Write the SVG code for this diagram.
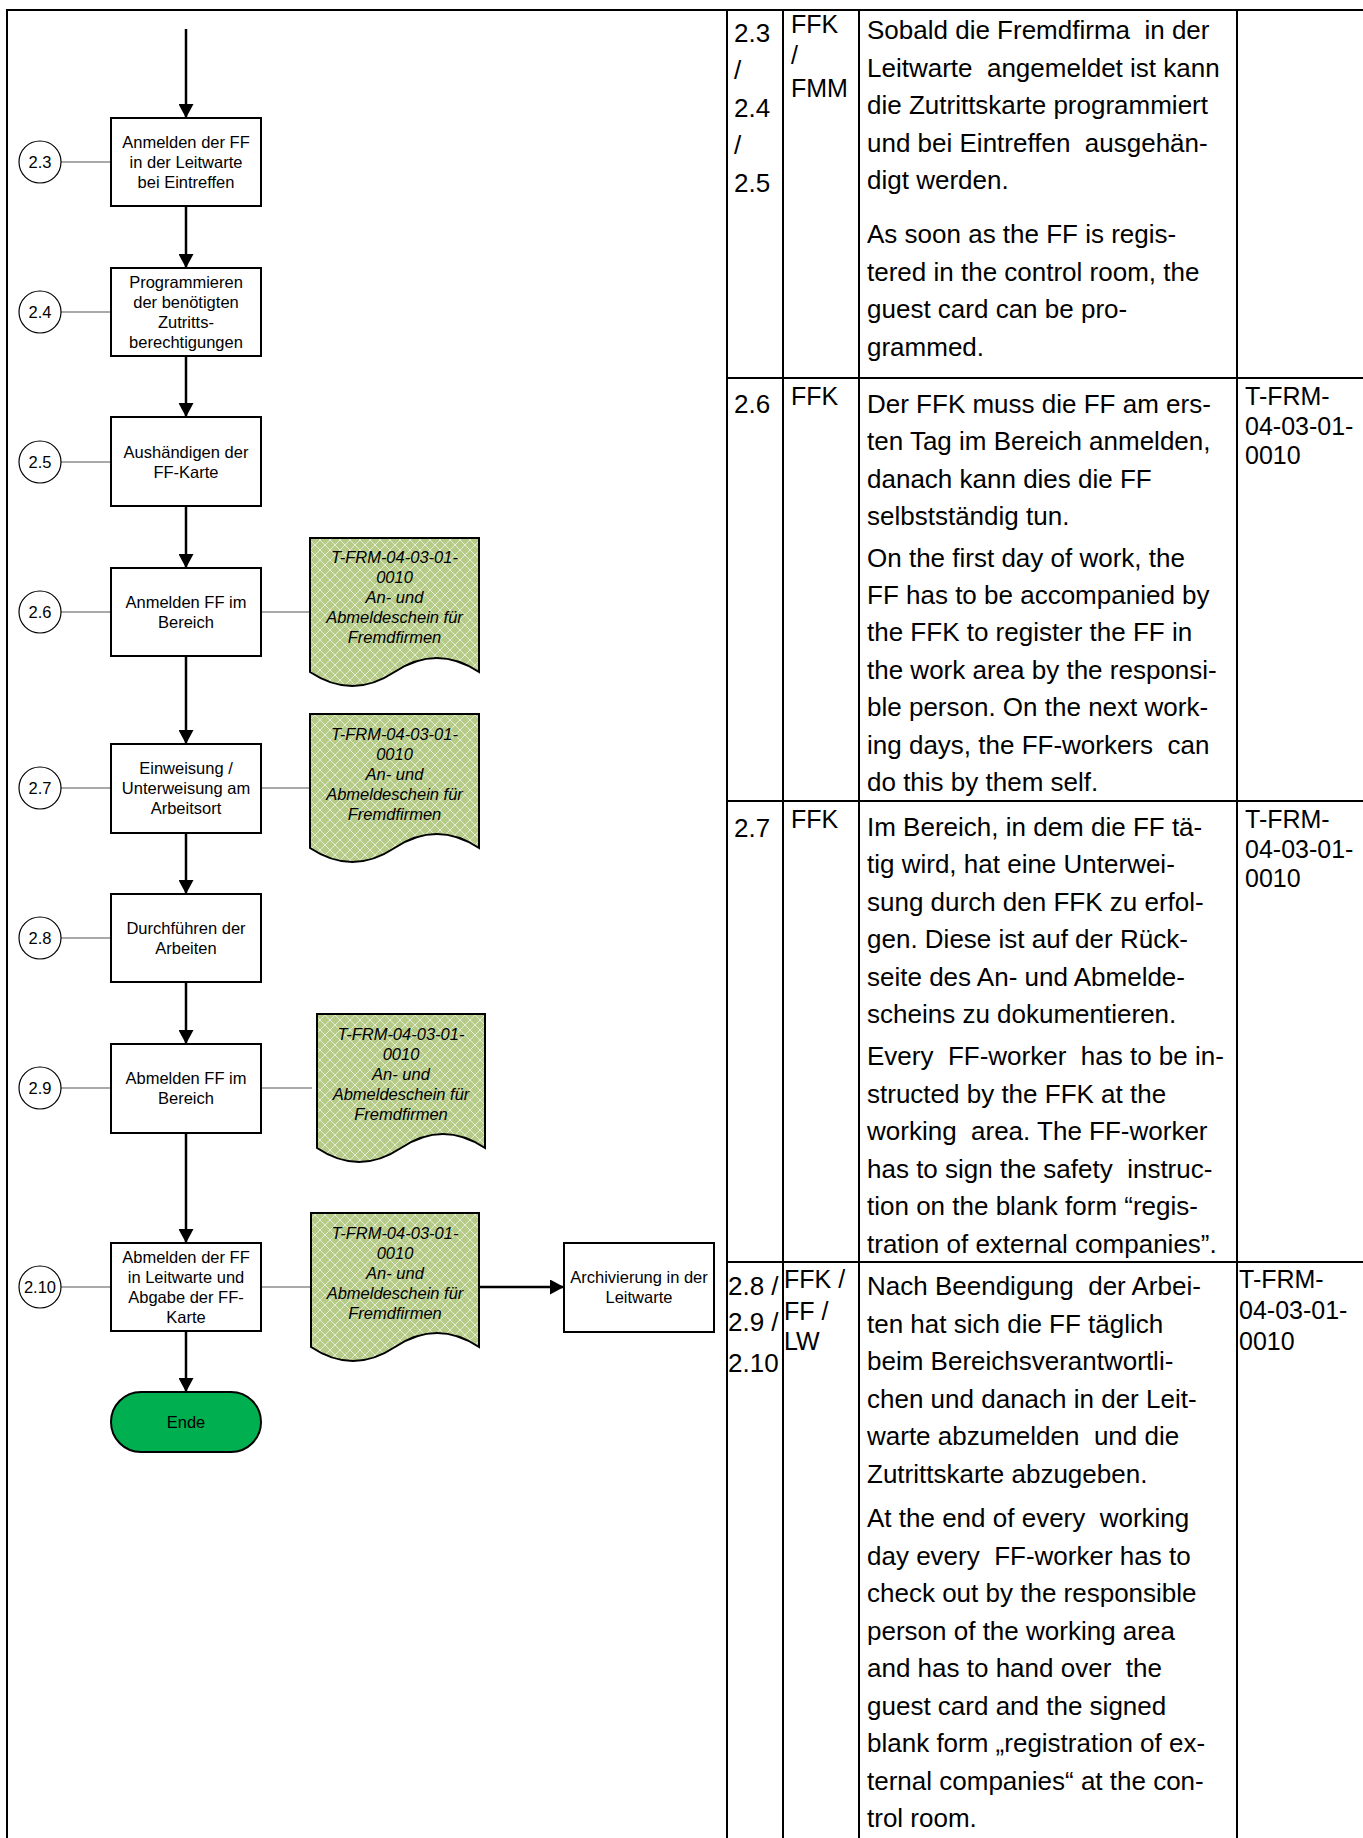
<svg xmlns="http://www.w3.org/2000/svg" width="1363" height="1838" viewBox="0 0 1363 1838">
<style>
.box{fill:#fff;stroke:#000;stroke-width:2}
.doc{fill:url(#hatch);stroke:#000;stroke-width:2}
.cir{fill:#fff;stroke:#000;stroke-width:1.2}
.t{font-family:"Liberation Sans",Arial,sans-serif;font-size:16.5px;fill:#000;text-anchor:middle}
.ti{font-family:"Liberation Sans",Arial,sans-serif;font-size:16.5px;font-style:italic;fill:#000;text-anchor:middle}
.flow{stroke:#000;stroke-width:2.5;fill:none;marker-end:url(#arr)}
.thin{stroke:#555;stroke-width:1.2;fill:none}
.grid{stroke:#000;stroke-width:2;fill:none}
.tb{font-family:"Liberation Sans",Arial,sans-serif;font-size:26px;fill:#000;white-space:pre}
.tc{font-family:"Liberation Sans",Arial,sans-serif;font-size:25px;fill:#000}
</style>
<defs>
<marker id="arr" markerUnits="userSpaceOnUse" markerWidth="15" markerHeight="15" refX="14" refY="7.5" orient="auto">
<path d="M0,0 L14,7.5 L0,15 z" fill="#000"/>
</marker>
<pattern id="hatch" patternUnits="userSpaceOnUse" width="10" height="10">
<rect width="10" height="10" fill="#b6cb88"/>
<path d="M0,0 L10,10 M10,0 L0,10" stroke="#e4ecd4" stroke-width="1"/>
</pattern>
</defs>
<rect width="1363" height="1838" fill="#fff"/>

<g id="frame">
<path class="grid" d="M7,1838 L7,10 L1363,10"/>
</g>

<g id="table" xml:space="preserve">
<path class="grid" d="M727,10 L727,1838 M783,10 L783,1838 M859,10 L859,1838 M1237,10 L1237,1838 M727,378 L1363,378 M727,801 L1363,801 M727,1262 L1363,1262"/>
<g id="row1">
<text class="tb" x="734" y="42">2.3</text>
<text class="tb" x="734" y="79">/</text>
<text class="tb" x="734" y="117">2.4</text>
<text class="tb" x="734" y="154">/</text>
<text class="tb" x="734" y="192">2.5</text>
<text class="tc" x="791" y="33">FFK</text>
<text class="tc" x="791" y="64">/</text>
<text class="tc" x="791" y="97">FMM</text>
<text class="tb" x="867" y="39">Sobald die Fremdfirma  in der</text>
<text class="tb" x="867" y="76.5">Leitwarte  angemeldet ist kann</text>
<text class="tb" x="867" y="114">die Zutrittskarte programmiert</text>
<text class="tb" x="867" y="151.5">und bei Eintreffen  ausgehän-</text>
<text class="tb" x="867" y="189">digt werden.</text>
<text class="tb" x="867" y="243">As soon as the FF is regis-</text>
<text class="tb" x="867" y="280.5">tered in the control room, the</text>
<text class="tb" x="867" y="318">guest card can be pro-</text>
<text class="tb" x="867" y="355.5">grammed.</text>
</g>
<g id="row2">
<text class="tb" x="734" y="413">2.6</text>
<text class="tc" x="791" y="405">FFK</text>
<text class="tb" x="867" y="413">Der FFK muss die FF am ers-</text>
<text class="tb" x="867" y="450">ten Tag im Bereich anmelden,</text>
<text class="tb" x="867" y="487.5">danach kann dies die FF</text>
<text class="tb" x="867" y="525">selbstständig tun.</text>
<text class="tb" x="867" y="567">On the first day of work, the</text>
<text class="tb" x="867" y="604">FF has to be accompanied by</text>
<text class="tb" x="867" y="641">the FFK to register the FF in</text>
<text class="tb" x="867" y="678.5">the work area by the responsi-</text>
<text class="tb" x="867" y="716">ble person. On the next work-</text>
<text class="tb" x="867" y="753.5">ing days, the FF-workers  can</text>
<text class="tb" x="867" y="791">do this by them self.</text>
<text class="tc" x="1245" y="405">T-FRM-</text>
<text class="tc" x="1245" y="434.5">04-03-01-</text>
<text class="tc" x="1245" y="464">0010</text>
</g>
<g id="row3">
<text class="tb" x="734" y="837">2.7</text>
<text class="tc" x="791" y="828">FFK</text>
<text class="tb" x="867" y="835.5">Im Bereich, in dem die FF tä-</text>
<text class="tb" x="867" y="873">tig wird, hat eine Unterwei-</text>
<text class="tb" x="867" y="910.5">sung durch den FFK zu erfol-</text>
<text class="tb" x="867" y="948">gen. Diese ist auf der Rück-</text>
<text class="tb" x="867" y="985.5">seite des An- und Abmelde-</text>
<text class="tb" x="867" y="1023">scheins zu dokumentieren.</text>
<text class="tb" x="867" y="1065">Every  FF-worker  has to be in-</text>
<text class="tb" x="867" y="1102.5">structed by the FFK at the</text>
<text class="tb" x="867" y="1140">working  area. The FF-worker</text>
<text class="tb" x="867" y="1177.5">has to sign the safety  instruc-</text>
<text class="tb" x="867" y="1215">tion on the blank form “regis-</text>
<text class="tb" x="867" y="1252.5">tration of external companies”.</text>
<text class="tc" x="1245" y="828">T-FRM-</text>
<text class="tc" x="1245" y="857.5">04-03-01-</text>
<text class="tc" x="1245" y="887">0010</text>
</g>
<g id="row4">
<text class="tb" x="728" y="1295">2.8 /</text>
<text class="tb" x="728" y="1331">2.9 /</text>
<text class="tb" x="728" y="1372">2.10</text>
<text class="tc" x="784" y="1288">FFK /</text>
<text class="tc" x="784" y="1320">FF /</text>
<text class="tc" x="784" y="1350">LW</text>
<text class="tb" x="867" y="1295">Nach Beendigung  der Arbei-</text>
<text class="tb" x="867" y="1332.5">ten hat sich die FF täglich</text>
<text class="tb" x="867" y="1370">beim Bereichsverantwortli-</text>
<text class="tb" x="867" y="1407.5">chen und danach in der Leit-</text>
<text class="tb" x="867" y="1445">warte abzumelden  und die</text>
<text class="tb" x="867" y="1482.5">Zutrittskarte abzugeben.</text>
<text class="tb" x="867" y="1527">At the end of every  working</text>
<text class="tb" x="867" y="1564.5">day every  FF-worker has to</text>
<text class="tb" x="867" y="1602">check out by the responsible</text>
<text class="tb" x="867" y="1639.5">person of the working area</text>
<text class="tb" x="867" y="1677">and has to hand over  the</text>
<text class="tb" x="867" y="1714.5">guest card and the signed</text>
<text class="tb" x="867" y="1752">blank form „registration of ex-</text>
<text class="tb" x="867" y="1789.5">ternal companies“ at the con-</text>
<text class="tb" x="867" y="1827">trol room.</text>
<text class="tc" x="1239" y="1288">T-FRM-</text>
<text class="tc" x="1239" y="1319">04-03-01-</text>
<text class="tc" x="1239" y="1350">0010</text>
</g>
</g>

<g id="connectors">
<path class="flow" d="M186,29 L186,118"/>
<path class="flow" d="M186,206 L186,268"/>
<path class="flow" d="M186,356 L186,417"/>
<path class="flow" d="M186,506 L186,568"/>
<path class="flow" d="M186,656 L186,744"/>
<path class="flow" d="M186,833 L186,894"/>
<path class="flow" d="M186,982 L186,1044"/>
<path class="flow" d="M186,1133 L186,1243"/>
<path class="flow" d="M186,1331 L186,1392"/>
<path class="flow" d="M479,1287 L564,1287"/>
<path class="thin" d="M61,162 L111,162 M61,312 L111,312 M61,462 L111,462 M61,612 L111,612 M61,788 L111,788 M61,938 L111,938 M61,1088 L111,1088 M61,1287 L111,1287"/>
<path class="thin" d="M261,612 L310,612 M261,788 L310,788 M261,1088 L312,1088 M261,1287 L311,1287"/>
</g>

<g id="c23"><circle class="cir" cx="40" cy="162" r="21"/><text class="t" x="40" y="168">2.3</text></g>
<g id="c24"><circle class="cir" cx="40" cy="312" r="21"/><text class="t" x="40" y="318">2.4</text></g>
<g id="c25"><circle class="cir" cx="40" cy="462" r="21"/><text class="t" x="40" y="468">2.5</text></g>
<g id="c26"><circle class="cir" cx="40" cy="612" r="21"/><text class="t" x="40" y="618">2.6</text></g>
<g id="c27"><circle class="cir" cx="40" cy="788" r="21"/><text class="t" x="40" y="794">2.7</text></g>
<g id="c28"><circle class="cir" cx="40" cy="938" r="21"/><text class="t" x="40" y="944">2.8</text></g>
<g id="c29"><circle class="cir" cx="40" cy="1088" r="21"/><text class="t" x="40" y="1094">2.9</text></g>
<g id="c210"><circle class="cir" cx="40" cy="1287" r="21"/><text class="t" x="40" y="1293">2.10</text></g>

<g id="n23"><rect class="box" x="111" y="118" width="150" height="88"/>
<text class="t" x="186" y="147.7">Anmelden der FF</text><text class="t" x="186" y="167.7">in der Leitwarte</text><text class="t" x="186" y="187.7">bei Eintreffen</text></g>
<g id="n24"><rect class="box" x="111" y="268" width="150" height="88"/>
<text class="t" x="186" y="288">Programmieren</text><text class="t" x="186" y="308">der benötigten</text><text class="t" x="186" y="328">Zutritts-</text><text class="t" x="186" y="348">berechtigungen</text></g>
<g id="n25"><rect class="box" x="111" y="417" width="150" height="89"/>
<text class="t" x="186" y="457.5">Aushändigen der</text><text class="t" x="186" y="477.5">FF-Karte</text></g>
<g id="n26"><rect class="box" x="111" y="568" width="150" height="88"/>
<text class="t" x="186" y="608">Anmelden FF im</text><text class="t" x="186" y="628">Bereich</text></g>
<g id="n27"><rect class="box" x="111" y="744" width="150" height="89"/>
<text class="t" x="186" y="774">Einweisung /</text><text class="t" x="186" y="794">Unterweisung am</text><text class="t" x="186" y="814">Arbeitsort</text></g>
<g id="n28"><rect class="box" x="111" y="894" width="150" height="88"/>
<text class="t" x="186" y="933.5">Durchführen der</text><text class="t" x="186" y="953.5">Arbeiten</text></g>
<g id="n29"><rect class="box" x="111" y="1044" width="150" height="89"/>
<text class="t" x="186" y="1084">Abmelden FF im</text><text class="t" x="186" y="1104">Bereich</text></g>
<g id="n210"><rect class="box" x="111" y="1243" width="150" height="88"/>
<text class="t" x="186" y="1263">Abmelden der FF</text><text class="t" x="186" y="1283">in Leitwarte und</text><text class="t" x="186" y="1303">Abgabe der FF-</text><text class="t" x="186" y="1323">Karte</text></g>
<g id="archiv"><rect class="box" x="564" y="1243" width="150" height="89"/>
<text class="t" x="639" y="1283">Archivierung in der</text><text class="t" x="639" y="1303">Leitwarte</text></g>
<g id="ende"><rect x="111" y="1392" width="150" height="60" rx="30" ry="30" fill="#00b050" stroke="#000" stroke-width="2"/>
<text class="t" x="186" y="1428">Ende</text></g>

<g id="doc26"><path class="doc" d="M310,538 L479,538 L479,672 Q436.75,644 394.5,672 T310,672 Z"/>
<text class="ti" x="394.5" y="563">T-FRM-04-03-01-</text><text class="ti" x="394.5" y="583">0010</text><text class="ti" x="394.5" y="603">An- und</text><text class="ti" x="394.5" y="623">Abmeldeschein für</text><text class="ti" x="394.5" y="643">Fremdfirmen</text></g>
<g id="doc27"><path class="doc" d="M310,714 L479,714 L479,848 Q436.75,820 394.5,848 T310,848 Z"/>
<text class="ti" x="394.5" y="739.5">T-FRM-04-03-01-</text><text class="ti" x="394.5" y="759.5">0010</text><text class="ti" x="394.5" y="779.5">An- und</text><text class="ti" x="394.5" y="799.5">Abmeldeschein für</text><text class="ti" x="394.5" y="819.5">Fremdfirmen</text></g>
<g id="doc29"><path class="doc" d="M317,1014 L485,1014 L485,1148 Q443,1120 401,1148 T317,1148 Z"/>
<text class="ti" x="401" y="1040">T-FRM-04-03-01-</text><text class="ti" x="401" y="1060">0010</text><text class="ti" x="401" y="1079.5">An- und</text><text class="ti" x="401" y="1099.5">Abmeldeschein für</text><text class="ti" x="401" y="1119.5">Fremdfirmen</text></g>
<g id="doc210"><path class="doc" d="M311,1213 L479,1213 L479,1347 Q437,1319 395,1347 T311,1347 Z"/>
<text class="ti" x="395" y="1239">T-FRM-04-03-01-</text><text class="ti" x="395" y="1259">0010</text><text class="ti" x="395" y="1279">An- und</text><text class="ti" x="395" y="1299">Abmeldeschein für</text><text class="ti" x="395" y="1319">Fremdfirmen</text></g>
</svg>
